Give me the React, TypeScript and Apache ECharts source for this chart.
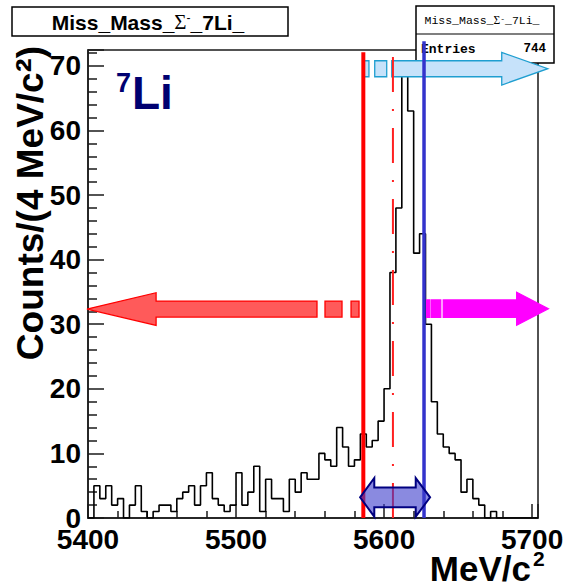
import React, { useEffect, useRef } from "react";
import * as echarts from "echarts";

// ---- histogram data (4 MeV/c^2 bins starting at 5400) ----
const binStart = 5400;
const binWidth = 4;
const counts = [
  0, 5, 3, 5, 2, 3, 0, 2, 5, 1,
  0, 1, 2, 2, 1, 3, 4, 5, 2, 5,
  7, 3, 2, 1, 2, 7, 2, 4, 8, 1,
  6, 3, 3, 1, 6, 4, 7, 6, 6, 10,
  9, 8, 14, 11, 8, 9, 13, 11, 12, 15,
  20, 38, 48, 69, 63, 41, 44, 30, 18, 13,
  11, 10, 9, 4, 6, 3, 2, 0, 1, 0,
  0, 0, 0, 0, 0, 0,
];
const xRange = [5400, 5704];
const yRange = [0, 72.45];
const xLabelInterval = 100;
const yLabelInterval = 10;
const entries = 744;

// ---- annotation positions in data units ----
const cutLinesX = [5586, 5606, 5627]; // red solid, red dash-dot, blue
const cutLinesTop = [72.1, 72.45, 73.8];
// striped arrows: [tip, headBase, bodyStart, wideStripeA, wideStripeB, narrowStripeA, narrowStripeB]
const redArrowX = [5399.3, 5446.0, 5554.7, 5560.1, 5571.6, 5577.7, 5583.1];
const magentaArrowX = [5711.0, 5689.6, 5640.0, 5632.1, 5638.3, 5628.8, 5631.0];
const cyanArrowX = [5710.6, 5679.5, 5605.2, 5593.7, 5601.8, 5585.6, 5589.8];
const doubleArrowX = [5583.8, 5593.4, 5621.4, 5631.1];
const arrowLevels = [32.35, 32.4, 69.55, 3.2]; // red, magenta, cyan, double

const FONT = "Liberation Sans";
const MONO = "Liberation Mono";

function stripedArrow(api: any, xs: number[], level: number, hb: number, hh: number, fill: string, stroke: string) {
  const yc = api.coord([xs[0], level])[1];
  const px = xs.map((v) => api.coord([v, level])[0]);
  const [tip, headX, bodyX, w1, w2, n1, n2] = px;
  const style = { fill, stroke, lineWidth: 1.3 };
  const rect = (a: number, b: number) => ({
    type: "rect",
    shape: { x: Math.min(a, b), y: yc - hb, width: Math.abs(b - a), height: 2 * hb },
    style,
  });
  return [
    rect(w1, w2),
    rect(n1, n2),
    {
      type: "polygon",
      shape: {
        points: [
          [bodyX, yc - hb],
          [headX, yc - hb],
          [headX, yc - hh],
          [tip, yc],
          [headX, yc + hh],
          [headX, yc + hb],
          [bodyX, yc + hb],
        ],
      },
      style,
    },
  ];
}

function renderOverlay(_params: any, api: any) {
  const children: any[] = [];
  children.push(...stripedArrow(api, redArrowX, arrowLevels[0], 8, 16.3, "#ff5a5a", "#ff0000"));
  children.push(...stripedArrow(api, magentaArrowX, arrowLevels[1], 8.7, 16.5, "#ff00ff", "#ff00ff"));
  children.push(...stripedArrow(api, cyanArrowX, arrowLevels[2], 8, 16.3, "#c6e2fa", "#1e9ed0"));

  const lineStyles = [
    { stroke: "#ff0000", lineWidth: 4 },
    { stroke: "#ff2020", lineWidth: 2, lineDash: [35, 17, 2, 17] },
    { stroke: "#3333cc", lineWidth: 3.5 },
  ];
  cutLinesX.forEach((x, i) => {
    const p0 = api.coord([x, yRange[0]]);
    const p1 = api.coord([x, cutLinesTop[i]]);
    children.push({
      type: "line",
      shape: { x1: p0[0], y1: p0[1], x2: p1[0], y2: p1[1] },
      style: lineStyles[i],
    });
  });

  const yc = api.coord([doubleArrowX[0], arrowLevels[3]])[1];
  const [a, b, c, d] = doubleArrowX.map((v) => api.coord([v, arrowLevels[3]])[0]);
  const hh = 19.3;
  const hb = 9.8;
  children.push({
    type: "polygon",
    shape: {
      points: [
        [a, yc],
        [b, yc - hh],
        [b, yc - hb],
        [c, yc - hb],
        [c, yc - hh],
        [d, yc],
        [c, yc + hh],
        [c, yc + hb],
        [b, yc + hb],
        [b, yc + hh],
      ],
    },
    style: { fill: "rgba(60,60,204,0.6)", stroke: "#000080", lineWidth: 2 },
  });
  return { type: "group", children };
}

function txt(x: number, y: number, text: string, font: any, align: string, extra: any = {}) {
  return {
    type: "text",
    z: 6,
    x,
    y,
    ...extra,
    style: {
      text,
      ...font,
      align,
      verticalAlign: "middle",
      textAlign: align,
      textVerticalAlign: "middle",
    },
  };
}

export default function App() {
  const ref = useRef<HTMLDivElement>(null);
  useEffect(() => {
    if (!ref.current) return;
    const chart = echarts.init(ref.current, undefined, { renderer: "svg" });

    const histData: number[][] = counts.map((c, k) => [binStart + k * binWidth, c]);
    histData.push([binStart + counts.length * binWidth, counts[counts.length - 1]]);

    const axisColor = "#1a1a1a";
    const labelStyle = { fontSize: 28, fontWeight: "bold", fontFamily: FONT, color: "#000" };

    const option: any = {
      animation: false,
      backgroundColor: "#fff",
      grid: {
        left: 88,
        top: 50,
        width: 450,
        height: 468,
        show: true,
        borderColor: axisColor,
        borderWidth: 1.5,
        containLabel: false,
        outerBoundsMode: "none",
      },
      xAxis: {
        type: "value",
        min: xRange[0],
        max: xRange[1],
        interval: xLabelInterval,
        axisLine: { show: true, onZero: false, lineStyle: { color: axisColor, width: 1.5 } },
        axisTick: { show: true, inside: true, length: 14, lineStyle: { color: axisColor, width: 1.5 } },
        minorTick: { show: true, splitNumber: 5, length: 7, lineStyle: { color: axisColor, width: 1.5 } },
        splitLine: { show: false },
        minorSplitLine: { show: false },
        axisLabel: {
          ...labelStyle,
          margin: 7,
          showMaxLabel: false,
          formatter: (v: number) => (Math.abs(v % xLabelInterval) < 1e-6 ? String(v) : ""),
        },
      },
      yAxis: {
        type: "value",
        min: yRange[0],
        max: yRange[1],
        interval: yLabelInterval,
        axisLine: { show: true, onZero: false, lineStyle: { color: axisColor, width: 1.5 } },
        axisTick: { show: true, inside: true, length: 16, lineStyle: { color: axisColor, width: 1.5 } },
        minorTick: { show: true, splitNumber: 5, length: 9, lineStyle: { color: axisColor, width: 1.5 } },
        splitLine: { show: false },
        minorSplitLine: { show: false },
        axisLabel: {
          ...labelStyle,
          margin: 7,
          showMaxLabel: false,
          formatter: (v: number) => (Math.abs(v % yLabelInterval) < 1e-6 ? String(v) : ""),
        },
      },
      series: [
        {
          type: "line",
          step: "end",
          data: histData,
          showSymbol: false,
          symbol: "none",
          silent: true,
          lineStyle: { color: "#000", width: 1.6 },
          z: 2,
        },
        {
          type: "custom",
          coordinateSystem: "cartesian2d",
          data: [[xRange[0], yRange[0]]],
          renderItem: renderOverlay,
          clip: false,
          silent: true,
          z: 10,
        },
      ],
      graphic: [
        {
          type: "rect",
          z: 5,
          shape: { x: 12, y: 7, width: 276, height: 29 },
          style: { fill: "#fff", stroke: "#000", lineWidth: 1.5 },
        },
        {
          type: "text",
          z: 6,
          x: 148,
          y: 22,
          style: {
            text: "{b|Miss_Mass_}{g|Σ}{m|-}{b|_7Li_}",
            align: "center",
            verticalAlign: "middle",
            textAlign: "center",
            textVerticalAlign: "middle",
            rich: {
              b: { fontFamily: FONT, fontWeight: "bold", fontSize: 21, fill: "#000" },
              g: { fontFamily: "Liberation Serif", fontSize: 21, fill: "#000" },
              m: { fontFamily: FONT, fontSize: 12, verticalAlign: "top", fill: "#000" },
            },
          },
        },
        {
          type: "rect",
          z: 5,
          shape: { x: 416, y: 6, width: 138, height: 57 },
          style: { fill: "#fff", stroke: "#000", lineWidth: 1.5 },
        },
        {
          type: "line",
          z: 5,
          shape: { x1: 416, y1: 34, x2: 554, y2: 34 },
          style: { stroke: "#000", lineWidth: 1.2 },
        },
        {
          type: "text",
          z: 6,
          x: 482,
          y: 20,
          style: {
            text: "{b|Miss_Mass_}{g|Σ}{m|-}{b|_7Li_}",
            align: "center",
            verticalAlign: "middle",
            textAlign: "center",
            textVerticalAlign: "middle",
            rich: {
              b: { fontFamily: MONO, fontSize: 11.5, fill: "#000" },
              g: { fontFamily: "Liberation Serif", fontSize: 11.5, fill: "#000" },
              m: { fontFamily: MONO, fontSize: 8, verticalAlign: "top", fill: "#000" },
            },
          },
        },
        txt(421, 49, "Entries", { fontFamily: MONO, fontWeight: "bold", fontSize: 13, fill: "#000" }, "left"),
        txt(546, 49, String(entries), { fontFamily: MONO, fontWeight: "bold", fontSize: 12.5, fill: "#000" }, "right"),
        {
          type: "text",
          z: 6,
          x: 30,
          y: 46,
          rotation: Math.PI / 2,
          style: {
            text: "{a|Counts/(4 MeV/c}{s|²}{a|)}",
            align: "right",
            verticalAlign: "middle",
            textAlign: "right",
            textVerticalAlign: "middle",
            rich: {
              a: { fontFamily: FONT, fontWeight: "bold", fontSize: 37, fill: "#000" },
              s: { fontFamily: FONT, fontWeight: "bold", fontSize: 42, fill: "#000" },
            },
          },
        },
        txt(531, 568, "MeV/c", { fontFamily: FONT, fontWeight: "bold", fontSize: 35, fill: "#000" }, "right"),
        txt(533, 558, "2", { fontFamily: FONT, fontWeight: "bold", fontSize: 21, fill: "#000" }, "left"),
        txt(116, 83, "7", { fontFamily: FONT, fontWeight: "bold", fontSize: 27, fill: "#000070" }, "left"),
        txt(132, 93, "Li", { fontFamily: FONT, fontWeight: "bold", fontSize: 46, fill: "#000070" }, "left"),
      ],
    };
    chart.setOption(option);
    return () => chart.dispose();
  }, []);
  return <div ref={ref} style={{ position: "absolute", left: 0, top: 0, width: 564, height: 586 }} />;
}
